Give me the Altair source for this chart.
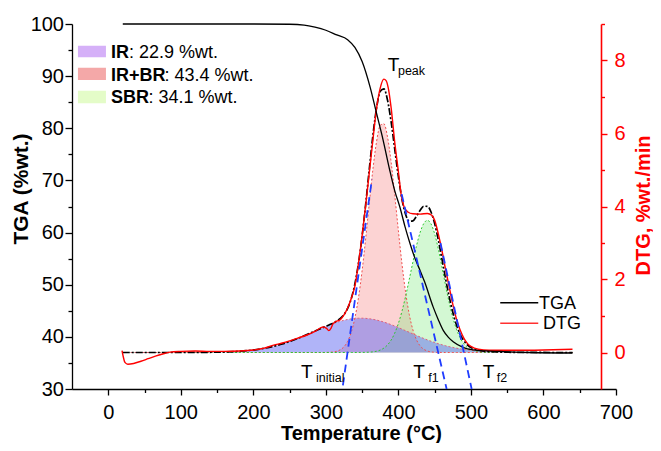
import altair as alt
import pandas as pd

FONT = "Liberation Sans"

# ---------------- data ----------------
# TGA curve (%wt.) vs temperature (deg C)
tga_temp = [20, 100, 200, 250, 270, 285, 300, 315, 330, 340, 350, 361, 370, 379, 388,
            395, 402, 409, 416, 423, 430, 436, 448, 455, 462, 469, 476, 489, 503, 520,
            540, 580, 640]
tga_mass = [100.0, 100.0, 100.0, 99.95, 99.8, 99.4, 98.8, 97.9, 97.0, 95.5, 92.8, 87.9,
            82.8, 77.7, 72.0, 68.0, 64.9, 61.2, 57.9, 55.0, 52.7, 50.6, 45.7, 43.3, 41.2,
            39.9, 39.0, 38.0, 37.5, 37.3, 37.2, 37.0, 36.9]

# measured DTG (%wt./min)
dtg_temp = [19, 20.5, 23, 27, 35, 45, 55, 65, 75, 85, 100, 120, 140, 160, 180, 200, 215,
            228, 240, 250, 262, 274, 285, 296, 301, 304, 307, 310, 315, 320, 325, 330,
            335, 340, 345, 350, 355, 360, 365, 370, 375, 380, 383, 386, 390, 395, 400,
            404, 408, 413, 420, 430, 440, 446, 450, 455, 460, 465, 470, 475, 480, 485,
            490, 495, 500, 510, 525, 560, 600, 640]
dtg_rate = [0.05, -0.10, -0.27, -0.32, -0.30, -0.24, -0.17, -0.10, -0.04, 0.01, 0.03,
            0.04, 0.03, 0.03, 0.04, 0.07, 0.12, 0.20, 0.26, 0.32, 0.40, 0.48, 0.58, 0.70,
            0.66, 0.60, 0.66, 0.79, 0.86, 0.90, 1.03, 1.22, 1.48, 1.82, 2.45, 3.20, 4.05,
            4.95, 5.85, 6.70, 7.25, 7.49, 7.45, 7.25, 6.70, 5.75, 4.95, 4.30, 3.98, 3.85,
            3.80, 3.79, 3.81, 3.76, 3.62, 3.25, 2.80, 2.28, 1.80, 1.32, 0.92, 0.62, 0.40,
            0.25, 0.17, 0.09, 0.06, 0.06, 0.07, 0.09]

# deconvolution: sampling temperatures and the three fitted peaks + their sum
fit_temp = (list(range(20, 201, 20)) + list(range(210, 291, 10))
            + list(range(300, 501, 5)) + list(range(520, 641, 20)))
ir_peak = [0, 0, 0, 0, 0.001, 0.002, 0.006, 0.014, 0.033, 0.070,
           0.099, 0.135, 0.181, 0.236, 0.302, 0.376, 0.458, 0.544, 0.631,
           0.716, 0.755, 0.792, 0.826, 0.857, 0.883, 0.905, 0.921, 0.933, 0.939, 0.940,
           0.935, 0.924, 0.908, 0.888, 0.862, 0.833, 0.799, 0.763, 0.724, 0.683, 0.640,
           0.596, 0.553, 0.509, 0.466, 0.424, 0.384, 0.345, 0.309, 0.274, 0.242, 0.213,
           0.186, 0.161, 0.139, 0.120, 0.102, 0.086, 0.073, 0.061,
           0.028, 0.012, 0.005, 0.002, 0.001, 0, 0]
irbr_peak = [0] * 19 + [
    0.002, 0.006, 0.014, 0.034, 0.076, 0.157, 0.305, 0.554, 0.944, 1.505, 2.247,
    3.142, 4.115, 5.044, 5.792, 6.226, 6.267, 5.907, 5.213, 4.308, 3.334, 2.415,
    1.639, 1.041, 0.619, 0.345, 0.180, 0.088, 0.040, 0.017, 0.007, 0.003, 0.001,
    0, 0, 0, 0, 0, 0, 0, 0] + [0] * 7
sbr_peak = [0] * 19 + [
    0, 0, 0, 0, 0, 0, 0, 0, 0, 0.001, 0.002,
    0.004, 0.009, 0.018, 0.035, 0.067, 0.121, 0.208, 0.341, 0.534, 0.798, 1.137,
    1.546, 2.005, 2.480, 2.926, 3.293, 3.536, 3.620, 3.523, 3.249, 2.838, 2.349,
    1.841, 1.368, 0.962, 0.641, 0.405, 0.242, 0.137, 0.074] + [0.004, 0, 0, 0, 0, 0, 0]
fit_sum = [0, 0, 0, 0, 0.001, 0.002, 0.006, 0.014, 0.033, 0.070,
           0.099, 0.135, 0.181, 0.236, 0.302, 0.376, 0.458, 0.544, 0.631,
           0.718, 0.761, 0.806, 0.860, 0.933, 1.040, 1.210, 1.475, 1.877, 2.445, 3.189,
           4.081, 5.048, 5.970, 6.715, 7.155, 7.221, 6.914, 6.317, 5.566, 4.815, 4.192,
           3.781, 3.599, 3.608, 3.737, 3.897, 4.008, 4.005, 3.849, 3.530, 3.083, 2.563,
           2.027, 1.529, 1.101, 0.761, 0.507, 0.328, 0.210, 0.135,
           0.032, 0.012, 0.005, 0.002, 0.001, 0, 0]
assert len(fit_temp) == len(ir_peak) == len(irbr_peak) == len(sbr_peak) == len(fit_sum)

# tangent construction lines (DTG units)
tan_id = ["initial", "initial", "f1", "f1", "f2", "f2"]
tan_temp = [323.5, 363.5, 404.5, 466.5, 458.0, 501.0]
tan_rate = [-0.90, 4.75, 4.34, -1.00, 3.00, -1.00]

# peak legend (top left), in TGA units
leg_names = ["IR", "IR+BR", "SBR"]
leg_values = [": 22.9 %wt.", ": 43.4 %wt.", ": 34.1 %wt."]
leg_colors = ["#d5b0f8", "#f4a8a8", "#e4fcc8"]
leg_top = [95.84, 91.62, 87.21]
leg_bottom = [93.61, 89.26, 84.79]
leg_base = [93.42, 89.13, 84.79]
leg_x0, leg_x1, leg_tx = -41.8, -3.2, 3.7
leg_vx = [28.5, 77.5, 55.3]

# line legend (bottom right), in TGA units
ll_names = ["TGA", "DTG"]
ll_colors = ["#000000", "#ff3030"]
ll_y = [46.55, 42.6]
ll_x = [540.4, 592.8]
ll_tx = [593.8, 599.2]
ll_ty = [45.34, 41.45]

# annotations (TGA units)
ann_main = ["T", "T", "T", "T"]
ann_main_x = [385.4, 265.7, 420.5, 516.2]
ann_main_y = [90.99, 32.1, 32.1, 32.1]
ann_sub = ["peak", "initial", "f1", "f2"]
ann_sub_x = [399.4, 286.4, 441.2, 535.5]
ann_sub_y = [90.22, 31.34, 31.4, 31.4]

# ---------------- frames ----------------
df_tga = pd.DataFrame({"T": tga_temp, "v": tga_mass})
df_dtg = pd.DataFrame({"T": dtg_temp, "v": dtg_rate})
df_fit = pd.DataFrame({"T": fit_temp, "ir": ir_peak, "irbr": irbr_peak,
                       "sbr": sbr_peak, "sum": fit_sum})
df_tan = pd.DataFrame({"id": tan_id, "T": tan_temp, "v": tan_rate})
df_leg = pd.DataFrame({"name": leg_names, "val": leg_values, "color": leg_colors,
                       "top": leg_top, "bot": leg_bottom, "base": leg_base,
                       "x0": [leg_x0] * 3, "x1": [leg_x1] * 3, "tx": [leg_tx] * 3,
                       "vx": leg_vx})
df_ll = pd.DataFrame({"name": [n for n in ll_names for _ in range(2)],
                      "color": [c for c in ll_colors for _ in range(2)],
                      "T": ll_x * 2,
                      "v": [y for y in ll_y for _ in range(2)]})
df_llt = pd.DataFrame({"name": ll_names, "T": ll_tx, "v": ll_ty})
df_ann = pd.DataFrame({"t": ann_main, "T": ann_main_x, "v": ann_main_y})
df_sub = pd.DataFrame({"t": ann_sub, "T": ann_sub_x, "v": ann_sub_y})

XS = alt.Scale(domain=[-50, 700], nice=False, zero=False)
YL = alt.Scale(domain=[30, 100], nice=False, zero=False)
YR = alt.Scale(domain=[-1, 9], nice=False, zero=False)

common = dict(grid=False, labelFont=FONT, titleFont=FONT, labelFlush=False,
              labelOverlap=False)

x_major = alt.Axis(orient="bottom", values=list(range(0, 701, 100)), format="d",
                   tickSize=6, tickWidth=1.3, tickColor="black", domainColor="black",
                   domainWidth=1.3, labelFontSize=20, labelColor="black", labelPadding=7,
                   title="Temperature (°C)", titleFontSize=20, titleFontWeight="bold",
                   titleColor="black", titleX=289, titleY=50, titleAlign="center",
                   titleBaseline="alphabetic", **common)
x_minor = alt.Axis(orient="bottom", values=list(range(50, 651, 100)), tickSize=3.5,
                   tickWidth=1.3, tickColor="black", labels=False, domain=False,
                   title=None, grid=False)
y_major = alt.Axis(orient="left", values=list(range(30, 101, 10)), format="d",
                   tickSize=7, tickWidth=1.3, tickColor="black", domainColor="black",
                   domainWidth=1.3, labelFontSize=20, labelColor="black", labelPadding=1.5,
                   title="TGA (%wt.)", titleFontSize=21, titleFontWeight="bold",
                   titleColor="black", titleAngle=270, titleX=-51, titleY=164.5,
                   titleAlign="center", titleBaseline="middle", **common)
y_minor = alt.Axis(orient="left", values=list(range(35, 96, 10)), tickSize=4,
                   tickWidth=1.3, tickColor="black", labels=False, domain=False,
                   title=None, grid=False)
r_major = alt.Axis(orient="right", offset=-15, values=[0, 2, 4, 6, 8], format="d",
                   tickSize=6, tickWidth=1.4, tickColor="#ff0000", domainColor="#ff0000",
                   domainWidth=1.6, labelFontSize=20, labelColor="#ff0000", labelPadding=7,
                   title="DTG, %wt./min", titleFontSize=20, titleFontWeight="bold",
                   titleColor="#ff0000", titleAngle=270, titleX=42, titleY=181,
                   titleAlign="center", titleBaseline="middle", **common)
r_minor = alt.Axis(orient="right", offset=-15, values=[1, 3, 5, 7, 9], tickSize=3.5,
                   tickWidth=1.4, tickColor="#ff0000", labels=False, domain=False,
                   title=None, grid=False)


def X(field="T", axis=None):
    return alt.X(f"{field}:Q", scale=XS, axis=axis)


def YD(field, axis=None):
    return alt.Y(f"{field}:Q", scale=YR, axis=axis)


def YT(field, axis=None):
    return alt.Y(f"{field}:Q", scale=YL, axis=axis)


fit = alt.Chart(df_fit)
area_irbr = fit.mark_area(color="#f58282", opacity=0.35, interpolate="monotone").encode(
    x=X(), y=YD("irbr"), y2=alt.datum(0))
area_sbr = fit.mark_area(color="#82eb82", opacity=0.35, interpolate="monotone").encode(
    x=X(), y=YD("sbr"), y2=alt.datum(0))
area_ir = fit.mark_area(color="#6169f1", opacity=0.5, interpolate="monotone").encode(
    x=X(), y=YD("ir"), y2=alt.datum(0))
edge_irbr = fit.mark_line(color="#f05050", strokeDash=[2, 2], strokeWidth=1,
                          interpolate="monotone").encode(x=X(), y=YD("irbr"))
edge_sbr = fit.mark_line(color="#30c830", strokeDash=[2, 2], strokeWidth=1,
                         interpolate="monotone").encode(x=X(), y=YD("sbr"))
edge_ir = fit.mark_line(color="#e0607a", strokeDash=[2, 2], strokeWidth=1,
                        interpolate="monotone").encode(x=X(), y=YD("ir"))
envelope = fit.mark_line(color="black", strokeDash=[7, 2, 2, 2], strokeWidth=1.7,
                         interpolate="monotone").encode(x=X(), y=YD("sum", r_minor))

dtg_line = alt.Chart(df_dtg).mark_line(color="#ff0000", strokeWidth=1.4,
                                       interpolate="monotone").encode(
    x=X(axis=x_minor), y=YD("v", r_major))
tga_line = alt.Chart(df_tga).mark_line(color="black", strokeWidth=1.3,
                                       interpolate="monotone").encode(
    x=X(axis=x_major), y=YT("v", y_major))
tangents = alt.Chart(df_tan).mark_line(color="#1f3cff", strokeDash=[8, 5],
                                       strokeWidth=1.8).encode(
    x=X(), y=YD("v"), detail="id:N")

leg = alt.Chart(df_leg)
leg_sw = leg.mark_rect().encode(
    x=X("x0"), x2="x1:Q", y=YT("top", y_minor), y2="bot:Q",
    color=alt.Color("color:N", scale=None))
leg_b = leg.mark_text(align="left", baseline="alphabetic", font=FONT, fontSize=18,
                      fontWeight="bold", color="black").encode(
    x=X("tx"), y=YT("base"), text="name:N")
leg_v = leg.mark_text(align="left", baseline="alphabetic", font=FONT, fontSize=18,
                      color="black").encode(
    x=X("vx"), y=YT("base"), text="val:N")

ll_lines = alt.Chart(df_ll).mark_line(strokeWidth=1.5).encode(
    x=X(), y=YT("v"), detail="name:N", color=alt.Color("color:N", scale=None))
ll_text = alt.Chart(df_llt).mark_text(align="left", baseline="alphabetic", font=FONT,
                                      fontSize=18, color="black").encode(
    x=X(), y=YT("v"), text="name:N")

ann = alt.Chart(df_ann).mark_text(align="left", baseline="alphabetic", font=FONT,
                                  fontSize=19, color="black").encode(
    x=X(), y=YT("v"), text="t:N")
sub = alt.Chart(df_sub).mark_text(align="left", baseline="alphabetic", font=FONT,
                                  fontSize=12.5, color="black").encode(
    x=X(), y=YT("v"), text="t:N")

chart = alt.layer(
    area_irbr, area_sbr, area_ir, edge_irbr, edge_sbr, edge_ir, envelope,
    dtg_line, tga_line, tangents, leg_sw, leg_b, leg_v, ll_lines, ll_text, ann, sub
).resolve_scale(y="independent").resolve_axis(x="independent", y="independent").properties(
    width=544, height=365,
    autosize=alt.AutoSizeParams(type="none"),
    padding={"left": 64, "top": 16, "right": 37, "bottom": 54},
    background="white",
).configure_view(stroke=None)

chart.save("out.html", embed_options={"renderer": "svg", "actions": False})
